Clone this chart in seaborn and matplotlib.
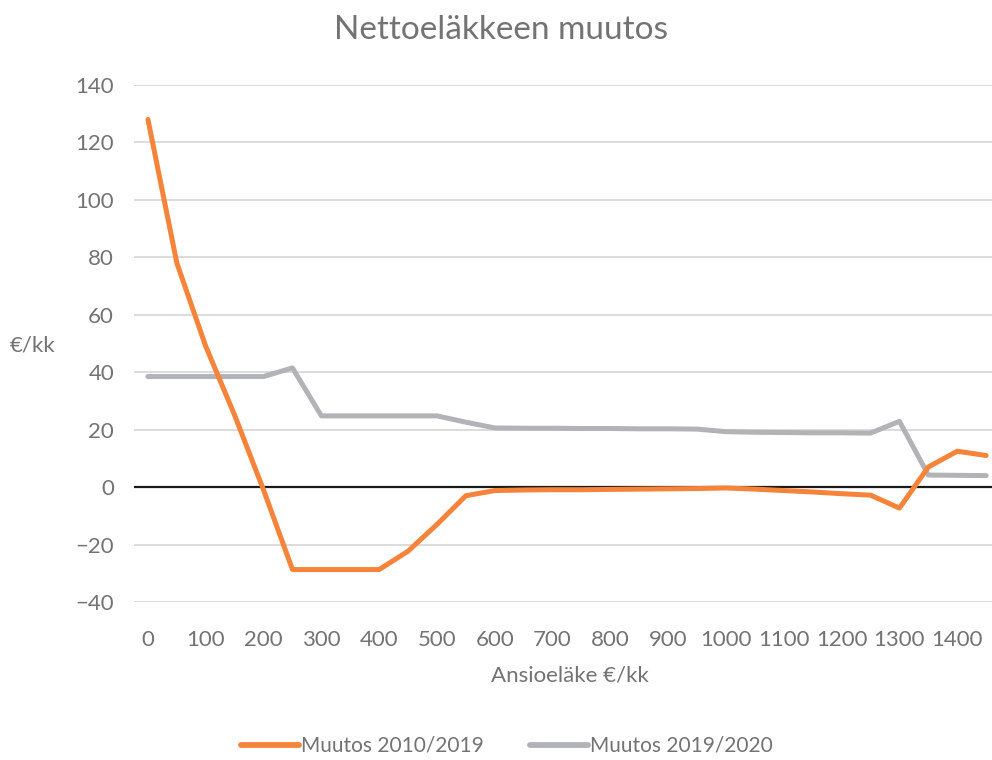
import matplotlib
matplotlib.use("Agg")
import matplotlib.pyplot as plt
import seaborn as sns
import pandas as pd
from matplotlib.lines import Line2D

# ---- data ----
ansioelake = [0, 50, 100, 150, 200, 250, 300, 350, 400, 450, 500, 550, 600, 650, 700,
              750, 800, 850, 900, 950, 1000, 1050, 1100, 1150, 1200, 1250, 1300, 1350, 1400, 1450]
muutos_2010_2019 = [128, 78, 49, 25, -1, -28.7, -28.7, -28.7, -28.7, -22.3, -13, -3, -1.2, -1.0, -0.9,
                    -0.9, -0.8, -0.7, -0.6, -0.5, -0.3, -0.7, -1.2, -1.7, -2.3, -2.8, -7.3, 7, 12.5, 11]
muutos_2019_2020 = [38.5, 38.5, 38.5, 38.5, 38.5, 41.5, 24.8, 24.8, 24.8, 24.8, 24.8, 22.6, 20.6, 20.5, 20.5,
                    20.4, 20.4, 20.3, 20.3, 20.2, 19.3, 19.1, 19.0, 18.9, 18.9, 18.8, 22.9, 4.2, 4.1, 4.0]
series_names = ["Muutos 2010/2019", "Muutos 2019/2020"]
x_ticks = [0, 100, 200, 300, 400, 500, 600, 700, 800, 900, 1000, 1100, 1200, 1300, 1400]
y_ticks = [-40, -20, 0, 20, 40, 60, 80, 100, 120, 140]
title = "Nettoeläkkeen muutos"
x_label = "Ansioeläke €/kk"
y_label = "€/kk"

colors = {series_names[0]: "#F5843A", series_names[1]: "#B2B3B6"}
text_color = "#737373"

df = pd.DataFrame({
    "x": ansioelake * 2,
    "y": muutos_2010_2019 + muutos_2019_2020,
    "sarja": [series_names[0]] * len(ansioelake) + [series_names[1]] * len(ansioelake),
})

sns.set_theme(style="white")
plt.rcParams["font.family"] = ["Lato", "DejaVu Sans"]

fig = plt.figure(figsize=(9.92, 7.6), dpi=100)
left_px, right_px, top_px, bottom_px = 133.5, 1000.6, 85, 602
ax = fig.add_axes([left_px / 992, (760 - bottom_px) / 760,
                   (right_px - left_px) / 992, (bottom_px - top_px) / 760])

sns.lineplot(data=df, x="x", y="y", hue="sarja", palette=colors, hue_order=series_names,
             linewidth=3.6, ax=ax, legend=False, solid_capstyle="round")
# orange on top
ax.lines[0].set_zorder(4)
ax.lines[1].set_zorder(3)

ax.set_xlim(-25, 1475)
ax.set_ylim(-40, 140)
ax.set_xticks(x_ticks)
ax.set_yticks(y_ticks)
ax.set_xticklabels([str(v) for v in x_ticks])
ax.set_yticklabels([("\u2212" + str(-v)) if v < 0 else str(v) for v in y_ticks])
ax.tick_params(axis="both", length=0, labelsize=16, colors=text_color)
ax.tick_params(axis="x", pad=20)
ax.tick_params(axis="y", pad=14)
ax.grid(axis="y", color="#D9D9D9", linewidth=1.3, zorder=0)
ax.grid(axis="x", visible=False)
ax.axhline(0, color="#1a1a1a", linewidth=1.6, zorder=2)
for s in ax.spines.values():
    s.set_visible(False)

ax.set_xlabel("")
ax.set_ylabel("")
fig.text(570 / 992, 1 - 676 / 760, x_label, ha="center", va="center", fontsize=16, color=text_color)
fig.text(10 / 992, 1 - 345 / 760, y_label, ha="left", va="center", fontsize=16, color=text_color)
fig.text(501 / 992, 1 - 30 / 760, title, ha="center", va="center", fontsize=24, color=text_color)

handles = [Line2D([0], [0], color=colors[n], linewidth=4.2) for n in series_names]
fig.legend(handles, series_names, loc="center", bbox_to_anchor=(507 / 992, 1 - 746 / 760),
           ncol=2, frameon=False, fontsize=15, handlelength=2.8, handletextpad=0.1,
           columnspacing=2.2, labelcolor=text_color)

fig.savefig("out.png", dpi=100)
